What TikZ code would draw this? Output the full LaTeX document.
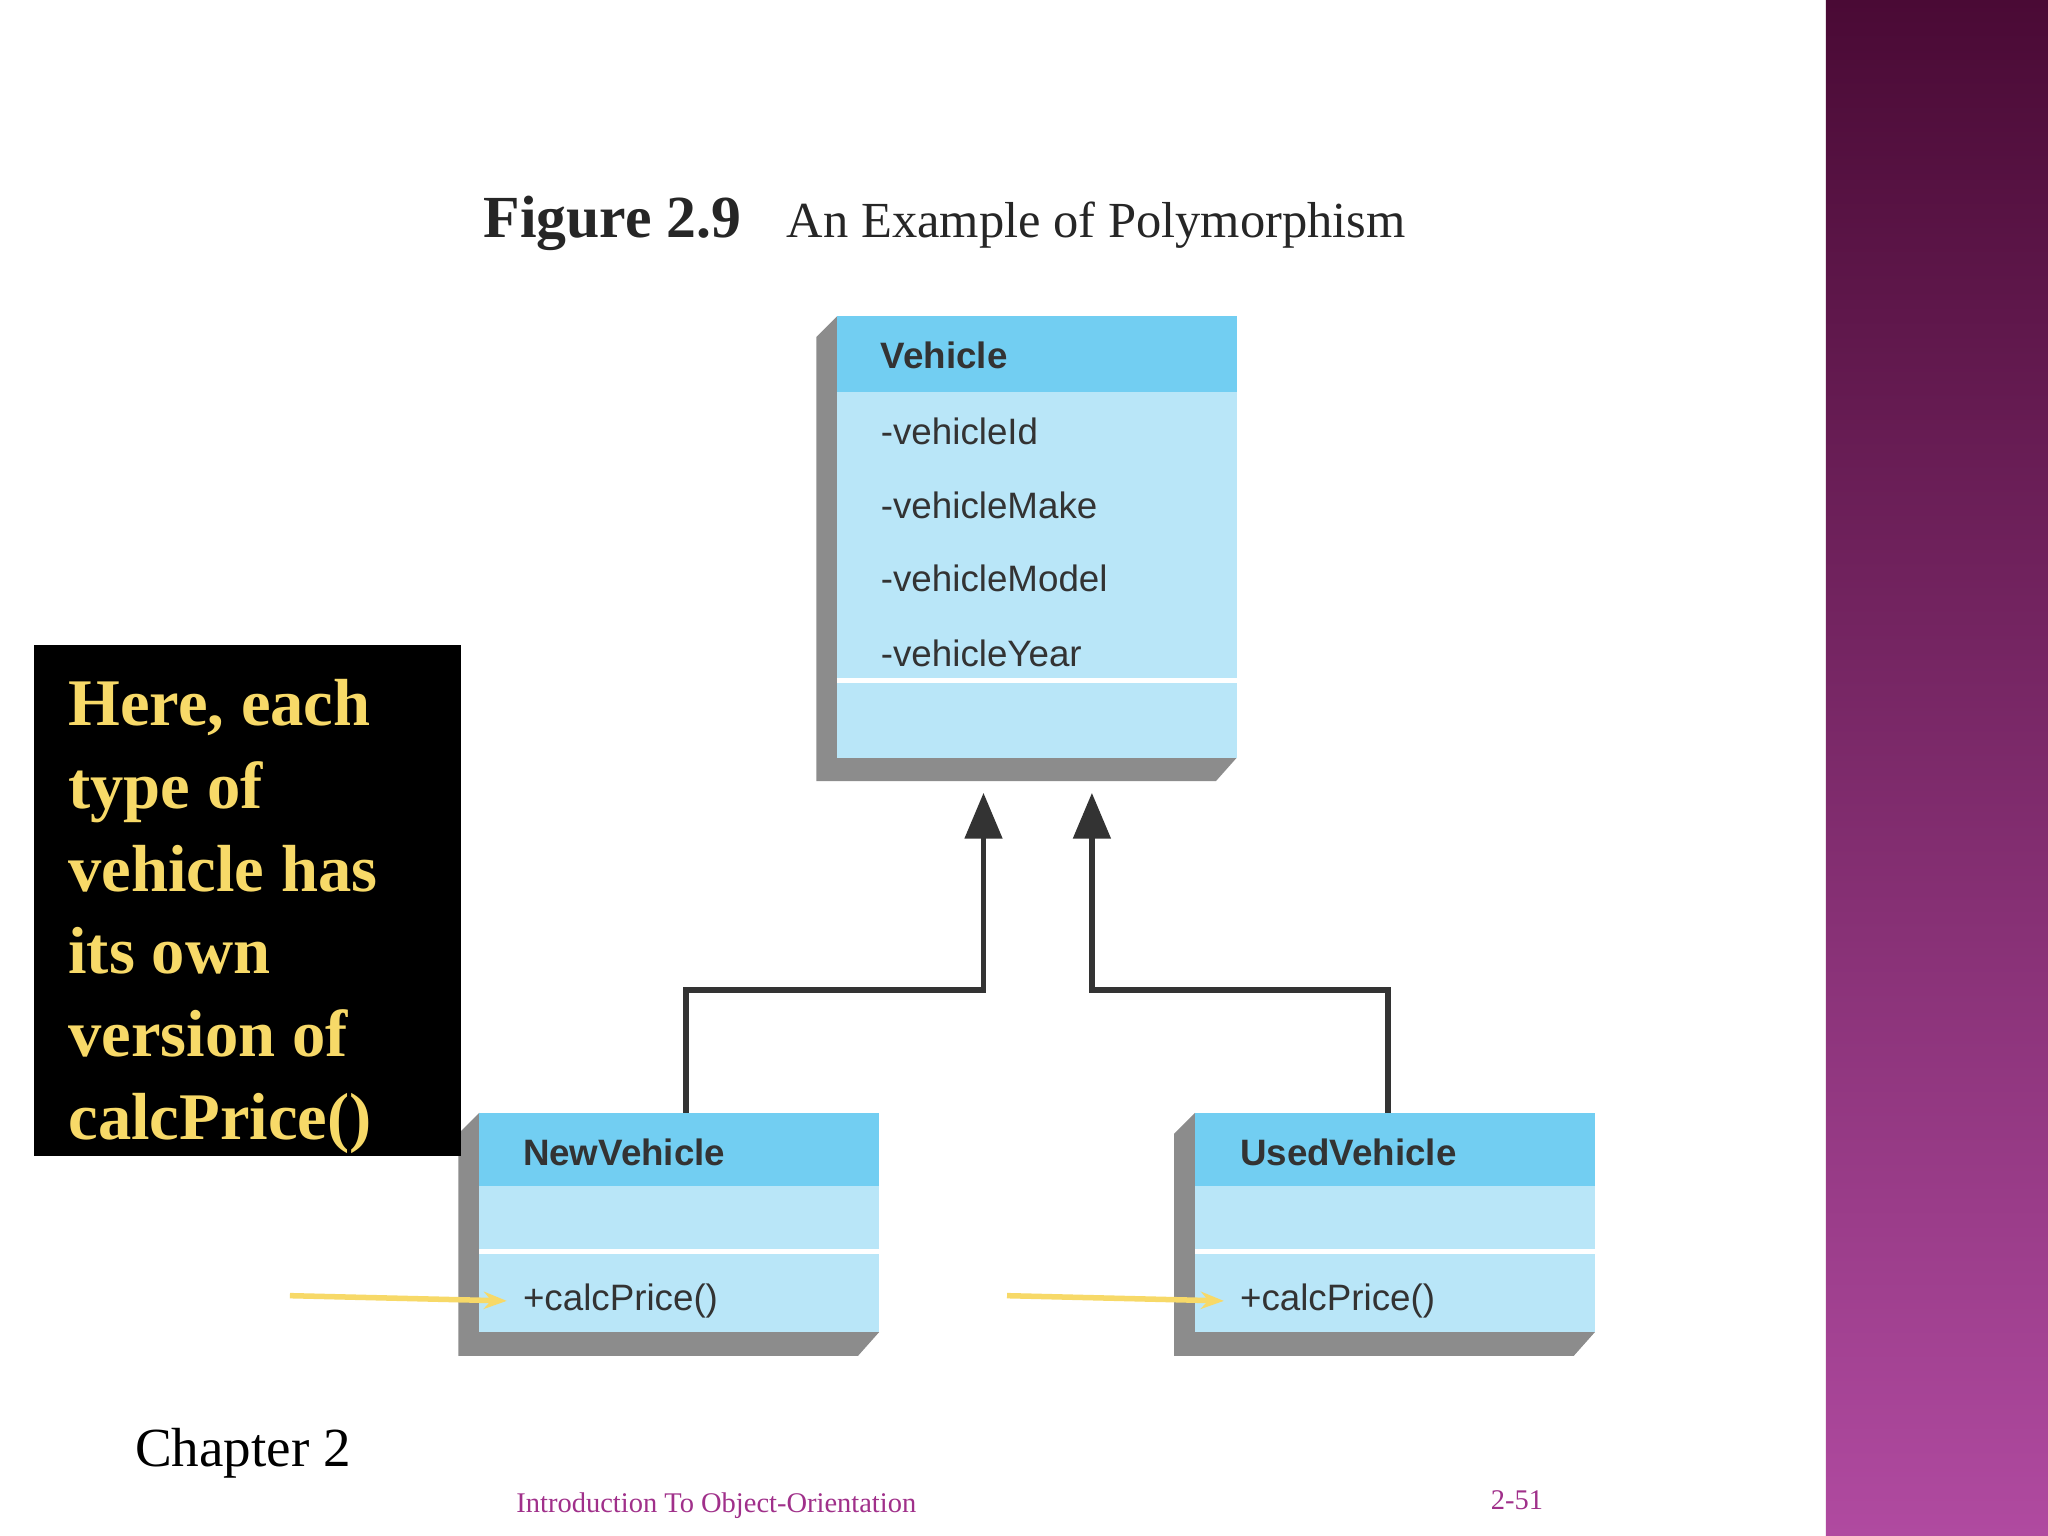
\documentclass[tikz,border=0pt]{standalone}
\usepackage{fontspec}
\setmainfont{Liberation Serif}
\newfontfamily\boxfont{Liberation Sans}
\usetikzlibrary{arrows.meta}
\definecolor{hdr}{HTML}{72CEF2}
\definecolor{bdy}{HTML}{B9E6F8}
\definecolor{ptop}{HTML}{4A0A35}
\definecolor{pbot}{HTML}{B04AA0}
\definecolor{ylw}{HTML}{F7D968}
\definecolor{foot}{HTML}{A0308A}
\tikzset{
 attr/.style={anchor=west,font=\boxfont\fontsize{8}{9}\selectfont,text=black!80},
 hd/.style={anchor=west,font=\boxfont\bfseries\fontsize{8}{9}\selectfont,text=black!80},
 inh/.style={draw=black!80,line width=1.3pt,-{Triangle[length=10pt,width=8pt]}},
 yarr/.style={draw=ylw,line width=1.2pt,-{Stealth[length=5pt]}},
}
\begin{document}
\begin{tikzpicture}[x=0.01cm,y=-0.01cm]
\useasboundingbox (0,0) rectangle (1568,1176);
\fill[white] (0,0) rectangle (1568,1176);
\shade[top color=ptop,bottom color=pbot] (1398,0) rectangle (1568,1176);
% title
\node[anchor=base west,font=\bfseries\fontsize{13}{14}\selectfont,text=black!85] (fig) at (358,182) {Figure 2.9};
\node[anchor=base west,font=\fontsize{11}{12}\selectfont,text=black!85] (figt) at (590,182) {An Example of Polymorphism};
% Vehicle
\fill[black!45] (625,258) -- (641,242) -- (641,580) -- (947,580) -- (931,598) -- (625,598) -- cycle;
\fill[bdy] (641,242) rectangle (947,580);
\fill[hdr] (641,242) rectangle (947,300);
\draw[white,line width=1pt] (641,521) -- (947,521);
\node[hd] (veh) at (662,272) {Vehicle};
\node[attr] (a1) at (662,330) {-vehicleId};
\node[attr] (a2) at (662,387) {-vehicleMake};
\node[attr] (a3) at (662,443) {-vehicleModel};
\node[attr] (a4) at (662,500) {-vehicleYear};
\coordinate (t1) at (753,607);
\coordinate (t2) at (836,607);
% NewVehicle
\fill[black!45] (351,868) -- (367,852) -- (367,1020) -- (673,1020) -- (657,1038) -- (351,1038) -- cycle;
\fill[bdy] (367,852) rectangle (673,1020);
\fill[hdr] (367,852) rectangle (673,908);
\draw[white,line width=1pt] (367,958) -- (673,958);
\node[hd] (nv) at (388,882) {NewVehicle};
\node[attr] (nvm) at (388,996) {+calcPrice()};
\coordinate (nvt) at (525,852);
% UsedVehicle
\fill[black!45] (899,868) -- (915,852) -- (915,1020) -- (1221,1020) -- (1205,1038) -- (899,1038) -- cycle;
\fill[bdy] (915,852) rectangle (1221,1020);
\fill[hdr] (915,852) rectangle (1221,908);
\draw[white,line width=1pt] (915,958) -- (1221,958);
\node[hd] (uv) at (937,882) {UsedVehicle};
\node[attr] (uvm) at (937,996) {+calcPrice()};
\coordinate (uvt) at (1063,852);
% connectors
\draw[inh] (nvt) |- (753,758) -- (t1);
\draw[inh] (uvt) |- (836,758) -- (t2);
% black note
\fill[black] (26,494) rectangle (353,885);
\node[anchor=north west,align=left,text=ylw,font=\bfseries\fontsize{14.5}{18}\selectfont] (note) at (40,508)
 {Here, each\\type of\\vehicle has\\its own\\version of\\calcPrice()};
% yellow arrows
\coordinate (y1s) at (222,992); \coordinate (y2s) at (771,992);
\draw[yarr] (y1s) -- (nvm.west);
\draw[yarr] (y2s) -- (uvm.west);
% footer
\node[anchor=base west,font=\fontsize{12}{14}\selectfont] (ch) at (91,1123) {Chapter 2};
\node[anchor=base west,text=foot,font=\fontsize{6.2}{7}\selectfont] (ft) at (383,1158) {Introduction To Object-Orientation};
\node[anchor=base west,text=foot,font=\fontsize{6.2}{7}\selectfont] (pg) at (1129,1156) {2-51};
\end{tikzpicture}
\end{document}
